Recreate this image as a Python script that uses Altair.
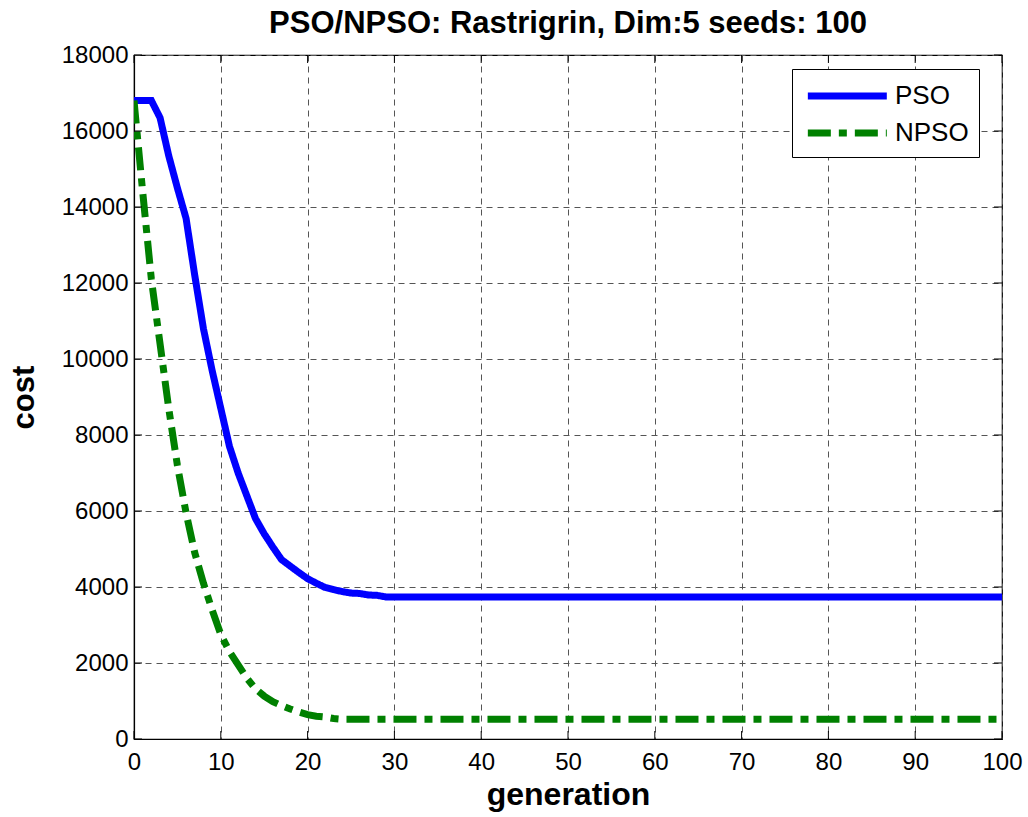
import altair as alt
import pandas as pd

# PSO series (generation breakpoints and cost)
gen_pso = [0, 1, 2, 3, 4, 5, 6, 7, 8, 9, 10, 11, 12, 13, 14, 15, 16, 17, 18, 19,
           20, 21, 22, 23, 24, 25, 26, 27, 28, 29, 30, 100]
cost_pso = [16800, 16800, 16800, 16350, 15350, 14500, 13700, 12200, 10800, 9700,
            8700, 7700, 7000, 6400, 5800, 5400, 5050, 4720, 4550, 4380,
            4220, 4100, 3990, 3930, 3880, 3840, 3830, 3790, 3780, 3740, 3740, 3740]

# NPSO series
gen_npso = [0, 1, 2, 3, 4, 5, 6, 7, 8, 9, 10, 11, 12, 13, 14, 15, 16, 17, 18, 19,
            20, 21, 22, 23, 24, 25, 100]
cost_npso = [16800, 14400, 12100, 10400, 8700, 7200, 5950, 4900, 4100, 3400,
             2750, 2300, 1950, 1600, 1320, 1130, 980, 880, 790, 710,
             640, 600, 580, 540, 520, 520, 520]

series_names = ["PSO", "NPSO"]
series_colors = ["#0000FF", "#008000"]
series_dash = [[1, 0], [23, 8, 8, 8]]

x_ticks = [0, 10, 20, 30, 40, 50, 60, 70, 80, 90, 100]
y_ticks = [0, 2000, 4000, 6000, 8000, 10000, 12000, 14000, 16000, 18000]

W, H = 868, 684
TICK = 8

df = pd.concat([
    pd.DataFrame({"generation": gen_pso, "cost": cost_pso, "series": "PSO"}),
    pd.DataFrame({"generation": gen_npso, "cost": cost_npso, "series": "NPSO"}),
], ignore_index=True)
df_xt = pd.DataFrame({"generation": x_ticks})
df_yt = pd.DataFrame({"cost": y_ticks})

FONT = "Liberation Sans"

xscale = alt.Scale(domain=[0, 100], nice=False, zero=False)
yscale = alt.Scale(domain=[0, 18000], nice=False)
xaxis = alt.Axis(values=x_ticks, title="generation", format="d")
yaxis = alt.Axis(values=y_ticks, title="cost", format="d")

lines = alt.Chart(df).mark_line(strokeWidth=7, strokeCap="butt", clip=True).encode(
    x=alt.X("generation:Q", scale=xscale, axis=xaxis),
    y=alt.Y("cost:Q", scale=yscale, axis=yaxis),
    color=alt.Color("series:N",
                    scale=alt.Scale(domain=series_names, range=series_colors),
                    legend=alt.Legend(title=None)),
    strokeDash=alt.StrokeDash("series:N",
                              scale=alt.Scale(domain=series_names, range=series_dash),
                              legend=alt.Legend(title=None)),
    order=alt.Order("generation:Q"),
)

# inward ticks (MATLAB box style)
xt_base = alt.Chart(df_xt).mark_rule(color="black", strokeWidth=1)
xt_bottom = xt_base.encode(x=alt.X("generation:Q", scale=xscale, axis=xaxis),
                           y=alt.value(H), y2=alt.value(H - TICK))
xt_top = xt_base.encode(x=alt.X("generation:Q", scale=xscale, axis=xaxis),
                        y=alt.value(0), y2=alt.value(TICK))
yt_base = alt.Chart(df_yt).mark_rule(color="black", strokeWidth=1)
yt_left = yt_base.encode(y=alt.Y("cost:Q", scale=yscale, axis=yaxis),
                         x=alt.value(0), x2=alt.value(TICK))
yt_right = yt_base.encode(y=alt.Y("cost:Q", scale=yscale, axis=yaxis),
                          x=alt.value(W), x2=alt.value(W - TICK))

chart = alt.layer(lines, xt_bottom, xt_top, yt_left, yt_right).properties(
    width=W,
    height=H,
    autosize=alt.AutoSizeParams(type="none"),
    padding={"left": 134, "top": 55, "right": 26, "bottom": 78},
    title=alt.Title("PSO/NPSO: Rastrigrin, Dim:5 seeds: 100",
                    font=FONT, fontSize=31, fontWeight="bold", color="black",
                    anchor="middle", offset=3),
).configure_view(
    stroke="black", strokeWidth=1.2
).configure_axis(
    labelFont=FONT, labelFontSize=24, labelColor="black", labelFlush=False,
    titleFont=FONT, titleFontWeight="bold", titleColor="black",
    domainColor="black", domainWidth=1.2,
    ticks=False,
    gridColor="#555555", gridDash=[6, 5], gridWidth=1, gridOpacity=1,
).configure_axisX(
    labelPadding=11, titlePadding=5, titleFontSize=32,
).configure_axisY(
    labelPadding=6, titlePadding=21, titleFontSize=31,
).configure_legend(
    orient="none", legendX=658, legendY=14,
    strokeColor="black", fillColor="white", cornerRadius=0,
    padding=10, symbolType="M-1,0H5", symbolSize=693, symbolStrokeWidth=7,
    symbolOffset=2,
    labelFont=FONT, labelFontSize=26, labelColor="black", labelOffset=57,
    rowPadding=6,
)

chart.save("out.html", embed_options={"renderer": "svg", "actions": False})
